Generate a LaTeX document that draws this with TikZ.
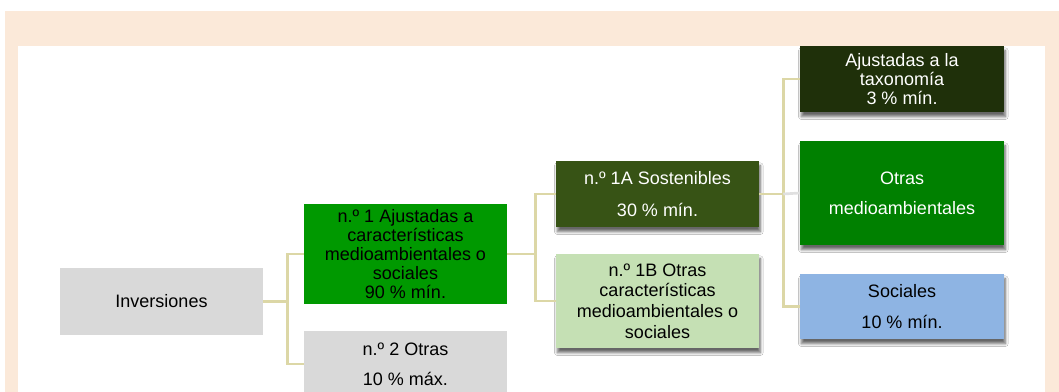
\documentclass[tikz,border=0pt]{standalone}
\usepackage{fontspec}
\setmainfont{Liberation Sans}
\usepackage{tikz}
\usetikzlibrary{shadows.blur}
\usepackage{xcolor}
\definecolor{Peach}{HTML}{FBE9D9}
\definecolor{BoxGray}{HTML}{D9D9D9}
\definecolor{Green}{HTML}{009900}
\definecolor{Olive}{HTML}{375315}
\definecolor{LightGreen}{HTML}{C5E0B4}
\definecolor{DarkGreen}{HTML}{1F300A}
\definecolor{MidGreen}{HTML}{008000}
\definecolor{SkyBlue}{HTML}{8EB4E3}
\definecolor{Tan}{HTML}{DCD7A6}
\definecolor{LineGray}{HTML}{E0E0E0}

\begin{document}
\begin{tikzpicture}[x=0.75pt,y=-0.75pt,
    box/.style={minimum width={0.75pt*203},minimum height={0.75pt*66},inner sep=2pt,
                align=center,font=\fontsize{13.5}{14.25}\selectfont},
    shade/.style={blur shadow={shadow xshift=1pt,shadow yshift=-3.5pt,
                  shadow blur steps=6,shadow opacity=60}},
    link/.style={draw=Tan,line width=2pt}]
    \useasboundingbox (0,0) rectangle (1059,392);
    \clip (0,0) rectangle (1059,392);
    % frame
    \fill[Peach] (5,11) rectangle (1059,400);
    \fill[white] (18,46) rectangle (1045,400);
    % left part
    \node[box,fill=BoxGray,minimum height={0.75pt*67}] (inv) at (161.5,301.5) {Inversiones};
    \node[box,fill=Green,minimum height={0.75pt*100}] (n1) at (405.5,254)
      {n.º 1 Ajustadas a\\características\\medioambientales o\\sociales\\90 \% mín.};
    \node[box,fill=BoxGray] (n2) at (405.5,364) {n.º 2 Otras\\[8.5pt]10 \% máx.};
    % middle
    \node[box,shade,fill=Olive,text=white] (n1a) at (657.5,194)
      {n.º 1A Sostenibles\\[9.25pt]30 \% mín.};
    \node[box,shade,fill=LightGreen,minimum height={0.75pt*94},
          font=\fontsize{13.5}{15.5}\selectfont] (n1b) at (657.5,301)
      {n.º 1B Otras\\características\\medioambientales o\\sociales};
    % right
    \node[box,shade,fill=DarkGreen,text=white,minimum width={0.75pt*204}] (tax) at (902,79)
      {Ajustadas a la\\taxonomía\\3 \% mín.};
    \node[box,shade,fill=MidGreen,text=white,minimum width={0.75pt*204},
          minimum height={0.75pt*104}] (otr) at (902,193) {Otras\\[8.5pt]medioambientales};
    \node[box,shade,fill=SkyBlue,minimum width={0.75pt*204},minimum height={0.75pt*65}]
      (soc) at (902,306.5) {Sociales\\[8.5pt]10 \% mín.};
    % connectors
    \draw[link] (inv.east) -- ++(24,0) |- (n1.west);
    \draw[link] (inv.east) -- ++(24,0) |- (n2.west);
    \draw[link] (n1.east) -- ++(28,0) |- (n1a.west);
    \draw[link] (n1.east) -- ++(28,0) |- (n1b.west);
    \draw[link] (n1a.east) -- ++(24,0) coordinate (j3) |- (tax.west);
    \draw[link] (j3) |- (soc.west);
    \draw[link,draw=LineGray] (j3) -- (otr.west);
  \end{tikzpicture}
\end{document}
